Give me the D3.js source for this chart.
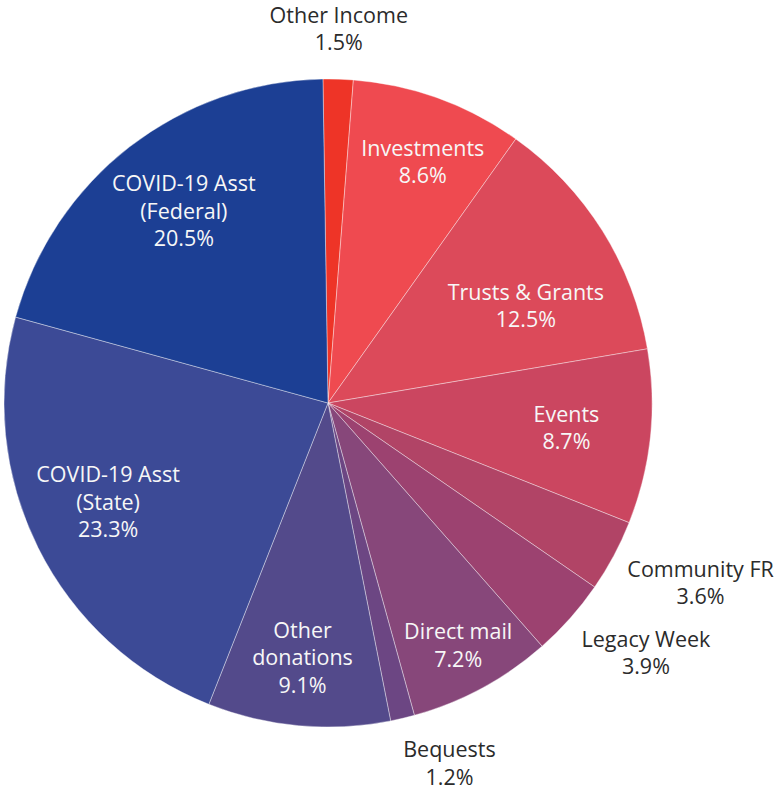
<!DOCTYPE html>
<html>
<head>
<meta charset="utf-8">
<script src="https://cdn.jsdelivr.net/npm/d3@7"></script>
<style>
  body { margin: 0; background: #fff; }
  text { font-family: "Open Sans", sans-serif; }
</style>
</head>
<body>
<div id="chart"></div>
<script>
// slices, clockwise from the top
const labels = ["Other Income", "Investments", "Trusts & Grants", "Events", "Community FR",
    "Legacy Week", "Direct mail", "Bequests", "Other donations", "COVID-19 Asst (State)", "COVID-19 Asst (Federal)"];
const lines = [["Other Income"], ["Investments"], ["Trusts & Grants"], ["Events"], ["Community FR"],
    ["Legacy Week"], ["Direct mail"], ["Bequests"], ["Other", "donations"], ["COVID-19 Asst", "(State)"], ["COVID-19 Asst", "(Federal)"]];
const values = [1.5, 8.6, 12.5, 8.7, 3.6, 3.9, 7.2, 1.2, 9.1, 23.3, 20.5];
const colors = ["#ee3427", "#ef4a50", "#dc4a5a", "#cb4660", "#b14466", "#9c4270",
    "#87477a", "#6c4683", "#534a8b", "#3c4a96", "#1c3f94"];
const outside = ["Other Income", "Community FR", "Legacy Week", "Bequests"];

// label radius (fraction of R) and angle nudge (deg) for the inside labels
const inPos = {
    "Investments": [0.80, 1.5], "Trusts & Grants": [0.68, 6], "Events": [0.74, 0],
    "Direct mail": [0.85, 0.2], "Other donations": [0.79, 0.5],
    "COVID-19 Asst (State)": [0.745, 2.2], "COVID-19 Asst (Federal)": [0.74, 0.8]
};

const width = 782, height = 789;
const cx = 328, cy = 403, R = 324;
const fontSize = 21.5, lineH = 27.5;

const svg = d3.select("#chart").append("svg")
    .attr("width", width)
    .attr("height", height);

const g = svg.append("g")
    .attr("transform", "translate(" + cx + "," + cy + ")");

const startA = -0.9 * Math.PI / 180;
const pie = d3.pie().sort(null).value(d => d.value)
    .startAngle(startA).endAngle(startA + 2 * Math.PI);

const data = labels.map((l, i) => ({label: l, lines: lines[i], value: values[i], color: colors[i]}));
const arcs = pie(data);

const arc = d3.arc().innerRadius(0).outerRadius(R);

g.selectAll("path.slice")
    .data(arcs)
    .join("path")
    .attr("class", "slice")
    .attr("d", arc)
    .attr("fill", d => d.data.color)
    .attr("stroke", "rgba(255,255,255,0.55)")
    .attr("stroke-width", 0.7);

// draw a multi-line label centred at (x, y)
function drawLabel(d, x, y, fill) {
    const all = d.data.lines.concat([d.data.value.toFixed(1) + "%"]);
    const t = g.append("text")
        .attr("text-anchor", "middle")
        .attr("fill", fill)
        .style("font-size", fontSize + "px");
    const top = y - (all.length - 1) * lineH / 2;
    all.forEach((s, i) => {
        t.append("tspan")
            .attr("x", x)
            .attr("y", top + i * lineH)
            .attr("dy", "0.35em")
            .text(s);
    });
    return t;
}

arcs.forEach(d => {
    const mid = (d.startAngle + d.endAngle) / 2;
    if (outside.indexOf(d.data.label) < 0) {
        const p = inPos[d.data.label];
        const a = mid + p[1] * Math.PI / 180;
        const r = p[0] * R;
        drawLabel(d, r * Math.sin(a), -r * Math.cos(a), "#f7f7f7");
    } else {
        // place the text box just outside the rim
        const t = drawLabel(d, 0, 0, "#2b2b2b");
        const bb = t.node().getBBox();
        const r = R + 20;
        const px = r * Math.sin(mid), py = -r * Math.cos(mid);
        const s = Math.sin(mid), c = Math.cos(mid);
        let x = px;
        if (Math.abs(s) >= 0.15) x = px + Math.sign(s) * (bb.width / 2 - 4);
        let y = py - c * bb.height / 2;
        if (c < 0 && s > 0.5) y += 8 * s * s;
        y -= 2;
        t.attr("transform", "translate(" + x + "," + y + ")");
    }
});
</script>
</body>
</html>
